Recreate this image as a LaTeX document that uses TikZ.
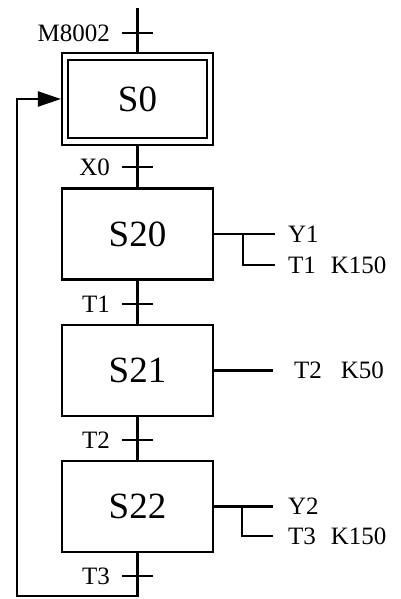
\documentclass[tikz,border=0pt]{standalone}
\usepackage{fontspec}
\setmainfont{Liberation Serif}
\usetikzlibrary{arrows.meta}
\begin{document}
\begin{tikzpicture}[x=1pt,y=-1pt,line width=2.1pt,
  stepbox/.style={draw,minimum width=151pt,minimum height=91pt,inner sep=0pt,font=\fontsize{37}{37}\selectfont},
  tlabel/.style={anchor=east,inner sep=0pt,font=\fontsize{25}{25}\selectfont},
  alabel/.style={anchor=west,inner sep=0pt,font=\fontsize{25}{25}\selectfont},
  tick/.style={line width=2.1pt}]
\useasboundingbox (0,0) rectangle (401,599);
% initial step
\node[draw,minimum width=151pt,minimum height=92pt,inner sep=0pt] (s0) at (137.5,99) {};
\node[stepbox,minimum width=139pt,minimum height=78pt] (s0in) at (137.5,99) {S0};
\node[stepbox] (s20) at (137.5,234) {S20};
\node[stepbox] (s21) at (137.5,370.5) {S21};
\node[stepbox] (s22) at (137.5,506.5) {S22};
% coordinates
\coordinate (top) at (137.5,8);
\coordinate (t0) at (137.5,33);
\coordinate (t1) at (137.5,167);
\coordinate (t2) at (137.5,304);
\coordinate (t3) at (137.5,440);
\coordinate (t4) at (137.5,576);
\coordinate (b) at (137.5,596);
\coordinate (bl) at (17,596);
\coordinate (tl) at (17,99);
% vertical links
\draw (top) -- (s0.north);
\draw (s0.south) -- (s20.north);
\draw (s20.south) -- (s21.north);
\draw (s21.south) -- (s22.north);
\draw[-{Triangle[length=23pt,width=15pt]}] (s22.south) -- (b) -- (bl) -- (tl) -- (s0.west);
% transition ticks
\foreach \t in {t0,t1,t2,t3,t4} \draw[tick] ([xshift=-15.5pt]\t) -- ([xshift=15.5pt]\t);
% transition labels
\node[tlabel] (l0) at (111,33) {M8002};
\node[tlabel] (l1) at (111,167) {X0};
\node[tlabel] (l2) at (111,304) {T1};
\node[tlabel] (l3) at (111,440) {T2};
\node[tlabel] (l4) at (111,576) {T3};
% actions S20
\coordinate (a20) at (275,234);
\coordinate (j20) at (243,234);
\coordinate (k20) at (243,265);
\coordinate (c20) at (275,265);
\draw (s20.east) -- (a20);
\draw (j20) -- (k20) -- (c20);
\node[alabel] (y1) at (287,234) {Y1};
\node[alabel] (tk1) at (287,265) {T1\hspace{15pt}K150};
% actions S21
\coordinate (a21) at (273,370.5);
\draw (s21.east) -- (a21);
\node[alabel] (tk2) at (293,370.5) {T2\hspace{19pt}K50};
% actions S22
\coordinate (a22) at (273,506.5);
\coordinate (j22) at (242,506.5);
\coordinate (k22) at (242,536);
\coordinate (c22) at (273,536);
\draw (s22.east) -- (a22);
\draw (j22) -- (k22) -- (c22);
\node[alabel] (y2) at (287,506.5) {Y2};
\node[alabel] (tk3) at (287,536) {T3\hspace{15pt}K150};
\end{tikzpicture}
\end{document}
